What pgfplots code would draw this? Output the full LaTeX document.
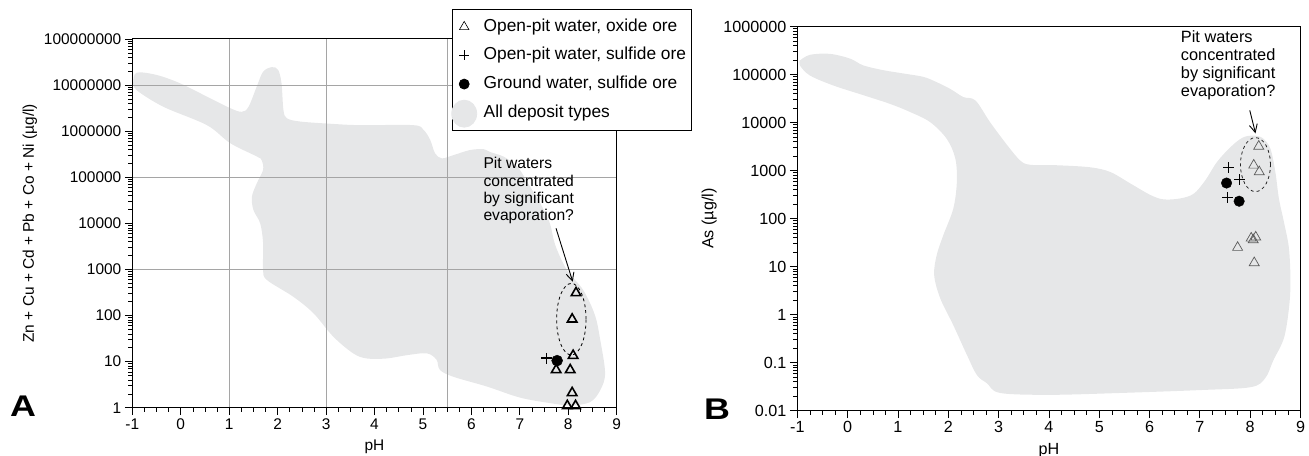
\documentclass[border=0pt]{standalone}
\usepackage{fontspec}
\setmainfont{Liberation Sans}
\usepackage{pgfplots}
\pgfplotsset{compat=1.18}
\usetikzlibrary{arrows.meta}
\definecolor{blob}{RGB}{230,231,232}
\definecolor{gridc}{RGB}{165,165,165}
\definecolor{tri}{RGB}{90,90,90}
\begin{document}
\begin{tikzpicture}[x=1bp,y=1bp]
\useasboundingbox (0,0) rectangle (1309,456);
% ---------------- Panel A ----------------
\begin{axis}[
  scale only axis, anchor=south west, clip=false,
  at={(132.3bp,48.3bp)}, width=484.4bp, height=368.7bp,
  xmin=-1, xmax=9,
  xtick={-1,0,1,2,3,4,5,6,7,8,9},
  xticklabels={-1,0,1,2,3,4,5,6,7,8,9},
  minor x tick num=3,
  ymode=log,
  ymin=1, ymax=1e8,
  ytick={1,10,100,1000,10000,100000,1000000,10000000,100000000},
  yticklabels={1,10,100,1000,10000,100000,1000000,10000000,100000000},
  minor ytick={2,3,4,5,6,7,8,9,20,30,40,50,60,70,80,90,200,300,400,500,600,700,800,900,2000,3000,4000,5000,6000,7000,8000,9000,2e4,3e4,4e4,5e4,6e4,7e4,8e4,9e4,2e5,3e5,4e5,5e5,6e5,7e5,8e5,9e5,2e6,3e6,4e6,5e6,6e6,7e6,8e6,9e6,2e7,3e7,4e7,5e7,6e7,7e7,8e7,9e7},
  tick align=outside, tick pos=left,
  major tick length=7.5bp, minor tick length=4bp,
  tick style={black, line width=0.8bp},
  minor tick style={black, line width=0.6bp},
  axis line style={line width=1bp},
  axis on top,
  xlabel={pH},
  xlabel style={yshift=-3bp},
  ticklabel style={font=\fontsize{15.5}{18}\selectfont},
  label style={font=\fontsize{15.5}{18}\selectfont},
  ylabel={Zn + Cu + Cd + Pb + Co + Ni (µg/l)},
  legend style={at={(0.6606,1.0814)}, anchor=north west, draw=black, line width=0.8bp, fill=white,
    font=\fontsize{17.4}{20}\selectfont, inner xsep=3bp, inner ysep=7bp, row sep=7.6bp,
    nodes={inner sep=2.5bp, text height=12.5bp, text depth=3.5bp},
    /tikz/every odd column/.append style={column sep=12bp}},
  legend cell align=left,
]
\addlegendimage{only marks, mark=triangle, mark size=5.5, mark options={draw=black, line width=0.6bp, fill=none}}
\addlegendentry{Open-pit water, oxide ore}
\addlegendimage{only marks, mark=+, mark size=5, mark options={draw=black, line width=0.8bp}}
\addlegendentry{Open-pit water, sulfide ore}
\addlegendimage{only marks, mark=*, mark size=5, mark options={draw=black, fill=black}}
\addlegendentry{Ground water, sulfide ore}
\addlegendimage{legend image code/.code={\fill[blob, overlay] (0.3cm,-1bp) ellipse [x radius=12.5bp, y radius=13.5bp];}}
\addlegendentry{All deposit types}

\addplot[fill=blob, draw=none, smooth, tension=0.55, forget plot] coordinates {
(-0.98,1.18e7) (-0.91,1.86e7) (-0.50,1.66e7) (-0.02,1.10e7) (0.54,5.62e6) (1.02,3.16e6)
(1.26,2.63e6) (1.40,3.39e6) (1.57,9.33e6) (1.70,1.95e7) (1.88,2.45e7) (2.01,2.14e7)
(2.08,1.10e7) (2.12,2.88e6) (2.19,1.91e6) (2.46,1.62e6) (3.08,1.45e6) (3.70,1.35e6)
(4.80,1.35e6) (5.01,1.07e6) (5.15,6.46e5) (5.25,3.31e5) (5.39,2.57e5) (5.63,3.02e5)
(5.97,3.89e5) (6.25,4.07e5) (6.38,3.55e5) (6.66,2.82e5) (6.87,2.00e5) (7.00,1.45e5)
(7.21,6.31e4) (7.42,2.75e4) (7.62,1.00e4) (7.73,3.39e3) (7.97,977) (8.31,355)
(8.55,102) (8.66,29.5) (8.76,5.62) (8.66,2.40) (8.45,1.32) (8.04,1.12)
(7.62,1.26) (7.00,1.66) (6.32,2.88) (5.63,4.68) (5.35,6.61) (5.28,11.0)
(5.08,15.1) (4.67,13.8) (4.25,11.7) (3.84,11.7) (3.56,15.1) (3.15,34.7)
(2.74,112) (2.32,257) (1.78,589) (1.70,977) (1.70,3.72e3) (1.64,1.00e4)
(1.50,1.95e4) (1.47,3.80e4) (1.57,7.41e4) (1.70,1.45e5) (1.67,2.34e5) (1.57,2.82e5)
(1.02,5.50e5) (0.54,1.35e6) (-0.36,3.39e6) (-0.91,7.76e6) (-0.98,1.18e7)
};
\draw[gridc, line width=0.9bp] (axis cs:1,1) -- (axis cs:1,1e8);
\draw[gridc, line width=0.9bp] (axis cs:3,1) -- (axis cs:3,1e8);
\draw[gridc, line width=0.9bp] (axis cs:5.5,1) -- (axis cs:5.5,1e8);
\draw[gridc, line width=0.9bp] (axis cs:-1,1000) -- (axis cs:9,1000);
\draw[gridc, line width=0.9bp] (axis cs:-1,1e5) -- (axis cs:9,1e5);
\draw[gridc, line width=0.9bp] (axis cs:-1,1e7) -- (axis cs:9,1e7);
\addplot[only marks, mark=triangle, mark size=5.5, mark options={draw=black, line width=1.6bp, fill=none}, forget plot] coordinates {
(8.16,310) (8.08,83) (8.10,13.5) (8.04,6.6) (7.75,6.6) (8.08,2.1) (7.98,1.1) (8.15,1.1)
};
\addplot[only marks, mark=+, mark size=5.5, mark options={draw=black, line width=1.7bp}, forget plot] coordinates {
(7.55,11.8)
};
\addplot[only marks, mark=*, mark size=5.5, mark options={draw=black, fill=black}, forget plot] coordinates {
(7.77,10.5)
};
\draw[black, line width=0.8bp, dash pattern=on 3bp off 3bp] (axis cs:8.063,83.2) ellipse [x radius=14.7bp, y radius=35.8bp];
\draw[black, line width=0.9bp, -{Straight Barb[length=8bp, width=8bp]}] (axis cs:7.747,7800) -- (axis cs:8.092,542);
\end{axis}
\node[anchor=north west, inner sep=0, align=left, font=\fontsize{15.7}{17.4}\selectfont] at (483.3,298.8) {Pit waters\\concentrated\\by significant\\evaporation?};
\node[anchor=base west, inner sep=0, font=\fontsize{30}{30}\selectfont\bfseries] at (10,39) {\scalebox{1.2}[1]{A}};

% ---------------- Panel B ----------------
\begin{axis}[
  scale only axis, anchor=south west, clip=false,
  at={(797.3bp,45.3bp)}, width=503.2bp, height=384.2bp,
  xmin=-1, xmax=9,
  xtick={-1,0,1,2,3,4,5,6,7,8,9},
  xticklabels={-1,0,1,2,3,4,5,6,7,8,9},
  minor x tick num=3,
  ymode=log,
  ymin=0.01, ymax=1e6,
  ytick={0.01,0.1,1,10,100,1000,10000,100000,1000000},
  yticklabels={0.01,0.1,1,10,100,1000,10000,100000,1000000},
  minor ytick={0.02,0.03,0.04,0.05,0.06,0.07,0.08,0.09,0.2,0.3,0.4,0.5,0.6,0.7,0.8,0.9,2,3,4,5,6,7,8,9,20,30,40,50,60,70,80,90,200,300,400,500,600,700,800,900,2000,3000,4000,5000,6000,7000,8000,9000,2e4,3e4,4e4,5e4,6e4,7e4,8e4,9e4,2e5,3e5,4e5,5e5,6e5,7e5,8e5,9e5},
  tick align=outside, tick pos=left,
  major tick length=7.5bp, minor tick length=4bp,
  tick style={black, line width=0.8bp},
  minor tick style={black, line width=0.6bp},
  axis line style={line width=1bp},
  axis on top,
  xlabel={pH},
  xlabel style={yshift=-3bp},
  ticklabel style={font=\fontsize{16.2}{19}\selectfont},
  label style={font=\fontsize{16.2}{19}\selectfont},
  ylabel={As (µg/l)},
]
\addplot[fill=blob, draw=none, smooth, tension=0.55, forget plot] coordinates {
(-0.95,1.95e5) (-0.75,2.57e5) (-0.35,2.69e5) (0.05,2.14e5) (0.31,1.55e5) (0.71,1.23e5)
(1.11,1.05e5) (1.51,8.91e4) (1.77,6.92e4) (2.04,5.01e4) (2.30,3.39e4) (2.54,2.88e4)
(2.83,1.02e4) (3.17,3.39e3) (3.43,1.62e3) (3.63,1.32e3) (4.16,1.29e3) (4.82,1.17e3)
(5.22,933) (5.62,537) (6.02,309) (6.28,251) (6.61,263) (6.88,331)
(7.11,631) (7.34,1510) (7.61,3090) (7.84,4790) (8.04,5370) (8.24,4790)
(8.40,2880) (8.50,933) (8.57,263) (8.67,85.1) (8.77,24.0) (8.80,4.79)
(8.77,1.35) (8.67,0.324) (8.46,0.112) (8.30,0.0479) (8.01,0.0309) (7.01,0.0269)
(5.42,0.0234) (4.03,0.0214) (3.03,0.0234) (2.77,0.0372) (2.57,0.0550) (2.37,0.145)
(2.10,0.603) (1.84,2.19) (1.72,6.61) (1.77,17.4) (1.90,44.7) (2.10,162)
(2.17,575) (2.14,1780) (1.97,4570) (1.64,1.02e4) (1.24,1.66e4) (0.84,2.45e4)
(0.31,3.72e4) (-0.28,5.89e4) (-0.75,9.55e4) (-0.95,1.55e5) (-0.95,1.95e5)
};
\addplot[only marks, mark=triangle, mark size=5.8, mark options={draw=tri, line width=0.7bp, fill=none}, forget plot] coordinates {
(8.17,3200) (8.07,1290) (8.18,940) (8.11,41) (8.02,39) (8.06,36) (7.75,25) (8.08,12)
};
\addplot[only marks, mark=+, mark size=5.2, mark options={draw=black, line width=0.8bp}, forget plot] coordinates {
(7.57,1150) (7.79,650) (7.55,275)
};
\addplot[only marks, mark=*, mark size=5.3, mark options={draw=black, fill=black}, forget plot] coordinates {
(7.53,550) (7.78,230)
};
\draw[black!85, line width=0.8bp, dash pattern=on 3bp off 3bp] (axis cs:8.105,1330) ellipse [x radius=15bp, y radius=27bp];
\draw[black, line width=0.9bp, -{Straight Barb[length=8bp, width=8bp]}] (axis cs:7.992,17900) -- (axis cs:8.105,5960);
\end{axis}
\node[anchor=north west, inner sep=0, align=left, font=\fontsize{16.4}{18.3}\selectfont] at (1180.7,426) {Pit waters\\concentrated\\by significant\\evaporation?};
\node[anchor=base west, inner sep=0, font=\fontsize{30}{30}\selectfont\bfseries] at (704,36.5) {\scalebox{1.2}[1]{B}};
\end{tikzpicture}
\end{document}
